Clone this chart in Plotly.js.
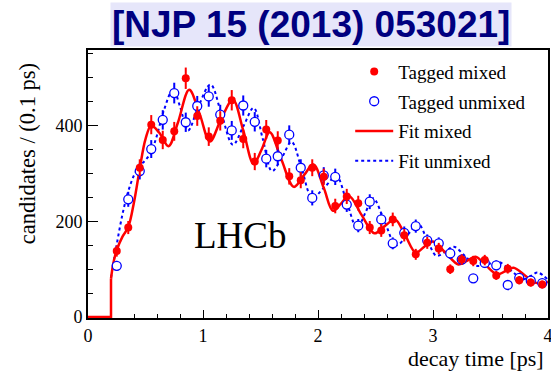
<!DOCTYPE html>
<html>
<head>
<meta charset="utf-8">
<script src="https://cdn.plot.ly/plotly-3.0.1.min.js"></script>
<style>
  html, body { margin: 0; padding: 0; background: #ffffff; }
  #chart { width: 551px; height: 376px; }
</style>
</head>
<body>
<div id="chart"></div>
<script>
// Bin centres of the decay-time histogram (0.1 ps bins)
const binCentres = [0.25, 0.35, 0.45, 0.55, 0.65, 0.75, 0.85, 0.95, 1.05, 1.15,
                    1.25, 1.35, 1.45, 1.55, 1.65, 1.75, 1.85, 1.95, 2.05, 2.15,
                    2.25, 2.35, 2.45, 2.55, 2.65, 2.75, 2.85, 2.95, 3.05, 3.15,
                    3.25, 3.35, 3.45, 3.55, 3.65, 3.75, 3.85, 3.95];

// Tagged mixed candidates per bin
const mixedCounts = [138, 187, 312, 402, 370, 388, 499, 420, 377, 410,
                     453, 372, 325, 392, 369, 294, 286, 312, 293, 232,
                     252, 238, 187, 181, 204, 171, 131, 155, 143, 100,
                     120, 117, 119, 87, 101, 77, 72, 68];

// Tagged unmixed candidates per bin
const unmixedCounts = [107, 246, 305, 351, 412, 468, 407, 441, 461, 423,
                       390, 442, 408, 331, 336, 381, 312, 249, 296, 293,
                       235, 191, 241, 204, 154, 176, 190, 160, 154, 133,
                       120, 81, 113, 108, 67, 82, 76, 71];

// Fitted projection, mixed
const fitMixedT = [0.20, 0.22, 0.25, 0.30, 0.35, 0.40, 0.45, 0.50, 0.55, 0.62,
                   0.70, 0.78, 0.88, 0.97, 1.06, 1.16, 1.26, 1.35, 1.44, 1.51,
                   1.58, 1.68, 1.79, 1.88, 1.96, 2.05, 2.13, 2.20, 2.27, 2.38,
                   2.49, 2.58, 2.67, 2.76, 2.85, 2.93, 3.00, 3.11, 3.22, 3.30,
                   3.37, 3.46, 3.56, 3.63, 3.70, 3.80, 3.89, 3.95, 4.00];
const fitMixedN = [80, 112, 140, 168, 188, 240, 310, 372, 400, 385,
                   357, 405, 475, 425, 367, 415, 454, 390, 320, 350,
                   386, 330, 272, 297, 319, 270, 222, 237, 253, 213,
                   175, 190, 204, 170, 135, 148, 158, 134, 110, 118,
                   126, 108, 89, 96, 103, 87, 72, 71, 74];

// Fitted projection, unmixed
const fitUnmixedT = [0.20, 0.22, 0.25, 0.30, 0.35, 0.40, 0.45, 0.50, 0.55, 0.60,
                     0.66, 0.74, 0.80, 0.87, 0.96, 1.065, 1.16, 1.26, 1.35, 1.44,
                     1.52, 1.60, 1.69, 1.77, 1.86, 1.95, 2.06, 2.16, 2.25, 2.34,
                     2.41, 2.48, 2.58, 2.68, 2.78, 2.87, 2.95, 3.03, 3.11, 3.18,
                     3.28, 3.38, 3.48, 3.57, 3.68, 3.78, 3.85, 3.91, 4.00];
const fitUnmixedN = [82, 112, 152, 215, 263, 296, 316, 328, 345, 380,
                     432, 476, 440, 390, 440, 486, 425, 360, 398, 437,
                     372, 305, 335, 366, 308, 250, 272, 294, 240, 186,
                     217, 248, 199, 150, 172, 195, 161, 128, 137, 147,
                     127, 107, 111, 115, 97, 79, 86, 93, 78];

// Fit below the acceptance cut-off
const cutT = [0, 0.2, 0.2];
const cutN = [0, 0, 80];

const serif = 'Liberation Serif, Times New Roman, serif';
const RED = '#ff0000';
const BLUE = '#0000ff';

const traces = [
  {
    x: cutT, y: cutN, mode: 'lines', type: 'scatter',
    line: { color: RED, width: 2.5 }, showlegend: false, hoverinfo: 'skip'
  },
  {
    x: fitUnmixedT, y: fitUnmixedN, mode: 'lines', type: 'scatter',
    name: 'Fit unmixed', legendgroup: 'd', legendrank: 4,
    line: { color: BLUE, width: 2, dash: 'dot', shape: 'spline', smoothing: 1 }
  },
  {
    x: fitMixedT, y: fitMixedN, mode: 'lines', type: 'scatter',
    name: 'Fit mixed', legendgroup: 'c', legendrank: 3,
    line: { color: RED, width: 2.5, shape: 'spline', smoothing: 1 }
  },
  {
    x: binCentres, y: unmixedCounts, mode: 'markers', type: 'scatter',
    name: 'Tagged unmixed', legendgroup: 'b', legendrank: 2,
    marker: { symbol: 'circle', size: 9, color: '#ffffff', line: { color: BLUE, width: 1.3 } },
    error_y: { type: 'sqrt', color: BLUE, thickness: 2, width: 0 }
  },
  {
    x: binCentres, y: mixedCounts, mode: 'markers', type: 'scatter',
    name: 'Tagged mixed', legendgroup: 'a', legendrank: 1,
    marker: { symbol: 'circle', size: 8, color: RED },
    error_y: { type: 'sqrt', color: RED, thickness: 2, width: 0 }
  }
];

const layout = {
  width: 551, height: 376,
  margin: { l: 88, r: 3, t: 50, b: 58, pad: 0 },
  paper_bgcolor: '#ffffff', plot_bgcolor: '#ffffff',
  font: { family: serif, color: '#000000' },
  showlegend: true,
  legend: {
    x: 0.57, y: 0.99, xanchor: 'left', yanchor: 'top',
    bgcolor: 'rgba(0,0,0,0)', borderwidth: 0,
    font: { family: serif, size: 19, color: '#000000' },
    traceorder: 'grouped', tracegroupgap: 2, itemwidth: 38
  },
  xaxis: {
    range: [0, 4], dtick: 1, tick0: 0,
    showgrid: false, zeroline: false,
    showline: true, linecolor: '#000000', linewidth: 2, mirror: true,
    ticks: 'inside', ticklen: 8, tickwidth: 1, tickcolor: '#000000',
    minor: { dtick: 0.2, ticks: 'inside', ticklen: 4, tickcolor: '#000000', showgrid: false },
    tickfont: { family: serif, size: 18, color: '#000000' },
    ticklabelstandoff: 0, ticklabeloverflow: 'allow',
    layer: 'below traces'
  },
  yaxis: {
    range: [-2, 558], dtick: 200, tick0: 0,
    showgrid: false, zeroline: false,
    showline: true, linecolor: '#000000', linewidth: 2, mirror: true,
    ticks: 'inside', ticklen: 10, tickwidth: 1, tickcolor: '#000000',
    minor: { dtick: 50, ticks: 'inside', ticklen: 5, tickcolor: '#000000', showgrid: false },
    tickfont: { family: serif, size: 18, color: '#000000' },
    ticklabelstandoff: 0,
    layer: 'below traces'
  },
  annotations: [
    {
      text: '[NJP 15 (2013) 053021]', xref: 'paper', yref: 'paper',
      x: 0.485, y: 1.097, xanchor: 'center', yanchor: 'middle', showarrow: false,
      font: { family: 'Liberation Sans, Arial, sans-serif', size: 37, color: '#000080', weight: 'bold' },
      bgcolor: '#e6e6fa', borderpad: 1
    },
    {
      text: 'LHCb', xref: 'x', yref: 'y', x: 1.33, y: 171,
      xanchor: 'center', yanchor: 'middle', showarrow: false,
      font: { family: serif, size: 37, color: '#000000' }
    },
    {
      text: 'candidates / (0.1 ps)', xref: 'paper', yref: 'paper',
      x: -0.13, y: 0.612, xanchor: 'center', yanchor: 'middle', textangle: -90,
      showarrow: false, font: { family: serif, size: 22.5, color: '#000000' }
    },
    {
      text: 'decay time [ps]', xref: 'paper', yref: 'paper',
      x: 0.9957, y: -0.1515, xanchor: 'right', yanchor: 'middle',
      showarrow: false, font: { family: serif, size: 22, color: '#000000' }
    }
  ]
};

Plotly.newPlot('chart', traces, layout, { displayModeBar: false, staticPlot: true });
</script>
</body>
</html>
